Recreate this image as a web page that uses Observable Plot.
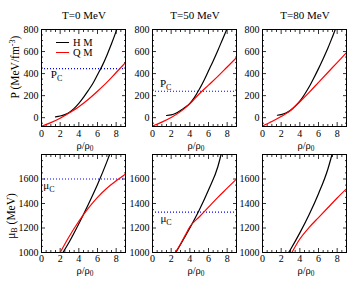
<!DOCTYPE html>
<html><head><meta charset="utf-8">
<script src="https://cdn.jsdelivr.net/npm/d3@7"></script>
<script src="https://cdn.jsdelivr.net/npm/@observablehq/plot@0.6"></script>
<style>
body{margin:0;background:#fff;}
#c{position:relative;width:363px;height:281px;font-family:"Liberation Serif","Times New Roman",serif;color:#000;overflow:hidden;background:#fff}
.lab{position:absolute;white-space:nowrap;line-height:1;transform-origin:center center}
.sb{font-size:70%;position:relative;top:0.3em}
.sp{font-size:70%;position:relative;top:-0.45em}
.plt{position:absolute}
</style></head><body><div id="c"></div>
<script>
// ---------- data ----------
const titles = ["T=0 MeV", "T=50 MeV", "T=80 MeV"];
const xMajor = [0, 2, 4, 6, 8];
const xMinor = [0.5, 1, 1.5, 2.5, 3, 3.5, 4.5, 5, 5.5, 6.5, 7, 7.5, 8.5];
const pMajor = [0, 200, 400, 600, 800];
const pMinor = [-50, 50, 100, 150, 250, 300, 350, 450, 500, 550, 650, 700, 750];
const muMajor = [1000, 1200, 1400, 1600];
const muMinor = [1050, 1100, 1150, 1250, 1300, 1350, 1450, 1500, 1550, 1650, 1700, 1750];

// Pressure (MeV/fm^3) vs rho/rho0
const rhoHM_P0 = [1.5, 2, 2.5, 3, 3.5, 4, 4.5, 5, 5.5, 6, 6.5, 7, 7.5, 8, 8.1];
const pHM_T0  = [8, 15, 28, 50, 85, 130, 185, 245, 310, 390, 470, 565, 670, 785, 810];
const rhoQM_P = [0, 1, 2, 3, 4, 5, 6, 7, 8, 9];
const pQM_T0  = [-78, -45, -5, 45, 100, 165, 240, 320, 410, 500];

const rhoHM_P50 = [1.5, 2, 2.5, 3, 3.5, 4, 4.5, 5, 5.5, 6, 6.5, 7, 7.5, 8];
const pHM_T50  = [20, 25, 40, 65, 95, 130, 185, 255, 335, 425, 515, 610, 710, 810];
const pQM_T50  = [-75, -40, 2, 55, 125, 215, 295, 375, 460, 545];

const rhoHM_P80 = [1.6, 2, 2.5, 3, 3.5, 4, 4.5, 5, 5.5, 6, 6.5, 7, 7.5, 7.8];
const pHM_T80  = [22, 28, 42, 68, 105, 150, 210, 280, 360, 445, 535, 630, 735, 800];
const pQM_T80  = [-75, -35, 10, 65, 145, 230, 320, 410, 500, 590];

// Baryon chemical potential (MeV) vs rho/rho0
const rhoHM_mu0 = [2.3, 3, 4, 5, 6, 7, 7.3];
const muHM_T0   = [1000, 1090, 1235, 1390, 1555, 1740, 1800];
const rhoQM_mu0 = [2, 3, 4, 5, 6, 7, 8, 9];
const muQM_T0   = [1000, 1135, 1255, 1360, 1450, 1525, 1585, 1640];

const rhoHM_mu50 = [2.5, 3, 4, 5, 6, 7, 7.35];
const muHM_T50   = [1000, 1065, 1200, 1345, 1510, 1700, 1800];
const rhoQM_mu50 = [2.45, 3, 3.5, 4, 5, 6, 7, 8, 9];
const muQM_T50   = [1000, 1070, 1140, 1210, 1290, 1370, 1450, 1525, 1600];

const rhoHM_mu80 = [2.8, 3, 4, 5, 6, 7, 7.45];
const muHM_T80   = [1000, 1025, 1160, 1310, 1480, 1680, 1800];
const rhoQM_mu80 = [3.15, 4, 5, 6, 7, 8, 9];
const muQM_T80   = [1000, 1110, 1205, 1285, 1365, 1445, 1520];

// critical values (dotted lines)
const Pc = [445, 240, null];
const muc = [1600, 1330, null];
const PcLabelX = [1.0, 0.8];
const mucLabelX = [0.2, 0.85];

// ---------- layout ----------
const frameLeft = [41, 152, 262];
const frameW = 84;
const rowTop = [29, 154];
const rowH = [97, 98];
const ML = 30, MR = 3, MT = 8, MB = 20;

const c = document.getElementById("c");

function addLabel(html, x, y, size, rot) {
  const d = document.createElement("div");
  d.className = "lab";
  d.innerHTML = html;
  d.style.left = x + "px";
  d.style.top = y + "px";
  d.style.fontSize = size + "px";
  d.style.transform = `translate(-50%,-50%)` + (rot ? ` rotate(${rot}deg)` : "");
  c.appendChild(d);
}

function panel(col, row, series, ydom, yMaj, yMin, ref, refX, refSym, refAnchor) {
  const marks = [
    Plot.axisX({ticks: xMajor, anchor: "bottom", tickSize: 0, tickPadding: row === 0 ? 3 : 2.5, label: null, tickFormat: d3.format("d")}),
    Plot.axisX({ticks: xMajor, anchor: "bottom", tickSize: -4, fill: "none", label: null, strokeWidth: 0.8}),
    Plot.axisX({ticks: xMinor, anchor: "bottom", tickSize: -2, fill: "none", label: null, strokeWidth: 0.8}),
    Plot.axisX({ticks: xMajor, anchor: "top", tickSize: -4, fill: "none", label: null, strokeWidth: 0.8}),
    Plot.axisX({ticks: xMinor, anchor: "top", tickSize: -2, fill: "none", label: null, strokeWidth: 0.8}),
    Plot.axisY({ticks: yMaj, anchor: "left", tickSize: 0, tickPadding: 3, label: null, tickFormat: d3.format("d")}),
    Plot.axisY({ticks: yMaj, anchor: "left", tickSize: -4, fill: "none", label: null, strokeWidth: 0.8}),
    Plot.axisY({ticks: yMin, anchor: "left", tickSize: -2, fill: "none", label: null, strokeWidth: 0.8}),
    Plot.axisY({ticks: yMaj, anchor: "right", tickSize: -4, fill: "none", label: null, strokeWidth: 0.8}),
    Plot.axisY({ticks: yMin, anchor: "right", tickSize: -2, fill: "none", label: null, strokeWidth: 0.8})
  ];
  if (ref != null) {
    marks.push(Plot.ruleY([ref], {stroke: "#0000ff", strokeWidth: 1.2, strokeDasharray: "1,2"}));
    marks.push(Plot.text([ref], {x: refX, y: d => d, text: () => refSym, textAnchor: "start",
      lineAnchor: refAnchor, dy: refAnchor === "top" ? 2 : -4, fontSize: 11}));
  }
  for (const s of series) {
    marks.push(Plot.line(s.x, {x: s.x, y: s.y, stroke: s.color, strokeWidth: 1.2, curve: "monotone-x", clip: true}));
  }
  marks.push(Plot.frame({stroke: "#000", strokeWidth: 1}));
  const svg = Plot.plot({
    width: frameW + ML + MR,
    height: rowH[row] + MT + MB,
    marginLeft: ML, marginRight: MR, marginTop: MT, marginBottom: MB,
    style: {fontFamily: '"Liberation Serif","Times New Roman",serif', fontSize: "10px", background: "transparent", color: "#000"},
    x: {domain: [0, 9]},
    y: {domain: ydom},
    marks
  });
  if (ref != null) {
    d3.select(svg).selectAll('g[aria-label="text"] text')
      .append("tspan").attr("dy", "0.35em").attr("font-size", "8px").text("C");
  }
  svg.classList.add("plt");
  svg.style.left = (frameLeft[col] - ML) + "px";
  svg.style.top = (rowTop[row] - MT) + "px";
  c.appendChild(svg);
}

const topSeries = [
  [{x: rhoHM_P0, y: pHM_T0, color: "#000"}, {x: rhoQM_P, y: pQM_T0, color: "#ff0000"}],
  [{x: rhoHM_P50, y: pHM_T50, color: "#000"}, {x: rhoQM_P, y: pQM_T50, color: "#ff0000"}],
  [{x: rhoHM_P80, y: pHM_T80, color: "#000"}, {x: rhoQM_P, y: pQM_T80, color: "#ff0000"}]
];
const botSeries = [
  [{x: rhoHM_mu0, y: muHM_T0, color: "#000"}, {x: rhoQM_mu0, y: muQM_T0, color: "#ff0000"}],
  [{x: rhoHM_mu50, y: muHM_T50, color: "#000"}, {x: rhoQM_mu50, y: muQM_T50, color: "#ff0000"}],
  [{x: rhoHM_mu80, y: muHM_T80, color: "#000"}, {x: rhoQM_mu80, y: muQM_T80, color: "#ff0000"}]
];

for (let i = 0; i < 3; i++) {
  panel(i, 0, topSeries[i], [-80, 800], pMajor, pMinor, Pc[i], PcLabelX[i], "P", i === 0 ? "top" : "bottom");
  panel(i, 1, botSeries[i], [1000, 1800], muMajor, muMinor, muc[i], mucLabelX[i], "μ", "top");
  const cx = frameLeft[i] + frameW / 2;
  addLabel(titles[i], cx + 1, 15, 11);
  addLabel('ρ/ρ<span class="sb">0</span>', cx + 2, 145.5, 10.5);
  addLabel('ρ/ρ<span class="sb">0</span>', cx + 2, 271, 10.5);
}
addLabel('P (MeV/fm<span class="sp">-3</span>)', 16, 67, 11.5, -90);
addLabel('μ<span class="sb">B</span> (MeV)', 11.5, 216, 11.5, -90);

// legend (T=0 pressure panel)
const legend = [["H M", "#000", 43], ["Q M", "#ff0000", 53]];
for (const [name, color, y] of legend) {
  const l = document.createElement("div");
  l.style.cssText = `position:absolute;left:56px;top:${y - 0.6}px;width:13px;border-top:1.3px solid ${color}`;
  c.appendChild(l);
  const t = document.createElement("div");
  t.className = "lab";
  t.textContent = name;
  t.style.cssText += `left:73px;top:${y - 5.5}px;font-size:10.5px`;
  c.appendChild(t);
}
</script></body></html>
